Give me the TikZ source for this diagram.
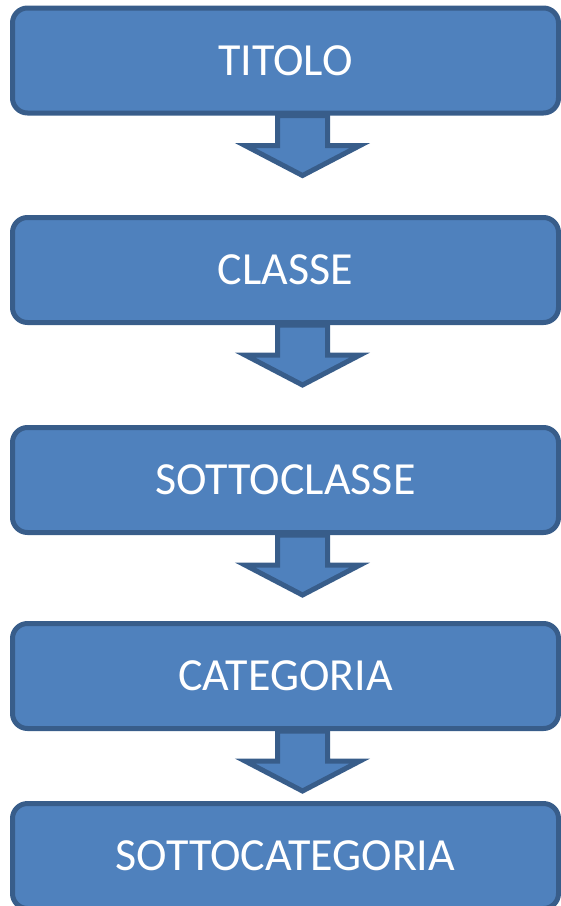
\documentclass[tikz,border=0pt]{standalone}
\usepackage{fontspec}
\setmainfont{Carlito}
\usetikzlibrary{calc,backgrounds}

\definecolor{livfill}{HTML}{4F81BD}
\definecolor{livline}{HTML}{385D8A}

\tikzset{
  livello/.style={draw=livline, fill=livfill, line width=5pt, rounded corners=15pt,
    minimum width=546pt, minimum height=105pt, inner sep=0pt, text=white,
    font=\fontsize{46}{50}\selectfont},
  freccia/.style={draw=livline, fill=livfill, line width=5pt, line join=miter}
}

\begin{document}
\begin{tikzpicture}[x=1pt, y=-1pt]
\useasboundingbox (0,0) rectangle (561,906) ;
\node[livello] (titolo) at (285.5,60.5) {TITOLO} ;
\node[livello] (classe) at (285.5,270) {CLASSE} ;
\node[livello] (sottoclasse) at (285.5,480) {SOTTOCLASSE} ;
\node[livello] (categoria) at (285.5,676) {CATEGORIA} ;
\node[livello] (sottocategoria) at (285.5,856) {SOTTOCATEGORIA} ;
% frecce sotto i riquadri
\begin{scope}[on background layer]
\foreach \a/\b in {titolo/classe, classe/sottoclasse, sottoclasse/categoria, categoria/sottocategoria} {
  \coordinate (P) at ($(\a.south)+(17,0)$) ;
  \draw[freccia] ($(P)+(-25,0)$) -- ($(P)+(-25,30)$) -- ($(P)+(-57.5,30)$)
    -- ($(P)+(0,60)$) -- ($(P)+(57.5,30)$) -- ($(P)+(25,30)$) -- ($(P)+(25,0)$) -- cycle ;
}
\end{scope}
\end{tikzpicture}
\end{document}
